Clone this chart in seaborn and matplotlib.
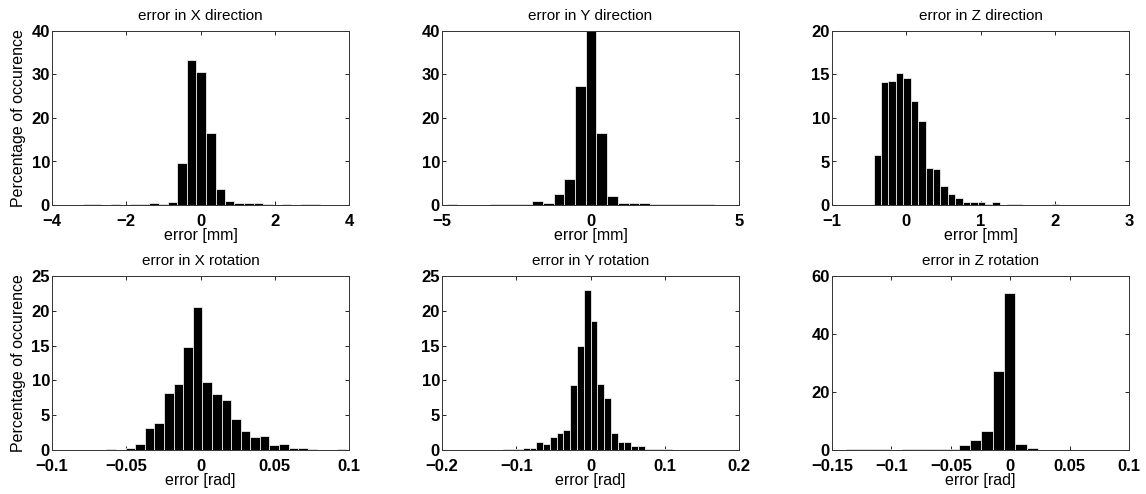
import numpy as np
import matplotlib
matplotlib.use("Agg")
import matplotlib.pyplot as plt
import seaborn as sns

# ---------------- data ----------------
titles = ["error in X direction", "error in Y direction", "error in Z direction",
          "error in X rotation", "error in Y rotation", "error in Z rotation"]
xlabels = ["error [mm]", "error [mm]", "error [mm]",
           "error [rad]", "error [rad]", "error [rad]"]
ylabel = "Percentage of occurence"

x_dir_centers = [-3.05, -2.80, -2.54, -2.28, -2.03, -1.77, -1.52, -1.26, -1.00, -0.75,
                 -0.49, -0.24, 0.02, 0.28, 0.53, 0.79, 1.04, 1.30, 1.56, 1.81,
                 2.07, 2.32, 2.58, 2.84, 3.09]
x_dir_pct = [0.12, 0.12, 0, 0.12, 0.05, 0.2, 0.2, 0.4, 0.2, 0.8,
             9.7, 33.3, 30.6, 16.5, 3.7, 1.0, 0.4, 0.4, 0.4, 0.25,
             0, 0.15, 0, 0.12, 0.12]

y_dir_centers = [-4.66, -4.30, -3.94, -3.58, -3.22, -2.86, -2.50, -2.14, -1.78, -1.42,
                 -1.06, -0.70, -0.34, 0.02, 0.38, 0.74, 1.10, 1.46, 1.82, 2.18,
                 2.54, 2.90, 3.26, 3.62, 3.98]
y_dir_pct = [0.15, 0, 0, 0.1, 0.2, 0.3, 0.15, 0.3, 1.0, 0.4,
             2.6, 6.0, 27.3, 40.0, 16.5, 2.0, 0.4, 0.5, 0.5, 0.2,
             0.15, 0.15, 0.15, 0.15, 0.2]

z_dir_centers = [-0.39, -0.29, -0.19, -0.09, 0.01, 0.11, 0.21, 0.31, 0.41, 0.51,
                 0.61, 0.71, 0.81, 0.91, 1.01, 1.11, 1.21, 1.31, 1.41, 1.51,
                 1.61, 1.71, 1.81, 1.91, 2.01]
z_dir_pct = [5.8, 14.1, 14.2, 15.2, 14.6, 12.0, 9.6, 4.2, 4.1, 2.2,
             1.3, 0.8, 0.4, 0.4, 0.4, 0.15, 0.3, 0, 0.1, 0.1,
             0, 0, 0, 0, 0.1]

x_rot_centers = [-0.0601, -0.0536, -0.0472, -0.0407, -0.0343, -0.0278, -0.0214, -0.0149,
                 -0.0085, -0.0020, 0.0045, 0.0109, 0.0174, 0.0238, 0.0303, 0.0368,
                 0.0432, 0.0497, 0.0561, 0.0626, 0.0690, 0.0755, 0.0819, 0.0884, 0.0948]
x_rot_pct = [0.2, 0, 0.35, 0.8, 3.2, 3.9, 8.2, 9.5, 14.8, 20.5,
             9.7, 8.0, 7.2, 4.4, 2.8, 1.8, 2.0, 0.7, 0.85, 0.3,
             0.35, 0.1, 0, 0, 0.1]

y_rot_centers = [-0.1138, -0.1047, -0.0956, -0.0865, -0.0774, -0.0683, -0.0592, -0.0501,
                 -0.0410, -0.0319, -0.0228, -0.0137, -0.0046, 0.0046, 0.0137, 0.0228,
                 0.0319, 0.0410, 0.0501, 0.0592, 0.0683, 0.0774, 0.0865, 0.0956, 0.1047]
y_rot_pct = [0.15, 0.1, 0.2, 0.25, 0.3, 1.1, 0.8, 1.8, 2.5, 2.9,
             9.3, 15.0, 23.0, 18.5, 9.5, 7.5, 2.5, 1.2, 1.1, 0.6,
             0.6, 0.15, 0.2, 0.2, 0.15]

z_rot_centers = [-0.1335, -0.1240, -0.1145, -0.1050, -0.0955, -0.0860, -0.0765, -0.0670,
                 -0.0575, -0.0480, -0.0385, -0.0290, -0.0195, -0.0100, -0.0005, 0.0090,
                 0.0185, 0.0280, 0.0375, 0.0470, 0.0565, 0.0660, 0.0755, 0.0850, 0.0945]
z_rot_pct = [0.3, 0.4, 0.2, 0.2, 0.15, 0.3, 0.3, 0.2, 0.3, 0.4,
             1.7, 3.5, 6.5, 27.3, 54.0, 2.0, 0.6, 0.15, 0.1, 0.15,
             0.1, 0.1, 0.15, 0, 0.1]

centers_all = [x_dir_centers, y_dir_centers, z_dir_centers,
               x_rot_centers, y_rot_centers, z_rot_centers]
pct_all = [x_dir_pct, y_dir_pct, z_dir_pct, x_rot_pct, y_rot_pct, z_rot_pct]

xticks_all = [[-4, -2, 0, 2, 4], [-5, 0, 5], [-1, 0, 1, 2, 3],
              [-0.1, -0.05, 0, 0.05, 0.1], [-0.2, -0.1, 0, 0.1, 0.2],
              [-0.15, -0.1, -0.05, 0, 0.05, 0.1]]
xticklabels_all = [["−4", "−2", "0", "2", "4"], ["−5", "0", "5"], ["−1", "0", "1", "2", "3"],
                   ["−0.1", "−0.05", "0", "0.05", "0.1"], ["−0.2", "−0.1", "0", "0.1", "0.2"],
                   ["−0.15", "−0.1", "−0.05", "0", "0.05", "0.1"]]
yticks_all = [[0, 10, 20, 30, 40], [0, 10, 20, 30, 40], [0, 5, 10, 15, 20],
              [0, 5, 10, 15, 20, 25], [0, 5, 10, 15, 20, 25], [0, 20, 40, 60]]

# ---------------- style ----------------
sns.set_style("ticks")
plt.rcParams["font.family"] = ["Liberation Sans", "DejaVu Sans"]
plt.rcParams["xtick.direction"] = "in"
plt.rcParams["ytick.direction"] = "in"
plt.rcParams["text.color"] = "black"
plt.rcParams["axes.labelcolor"] = "black"
plt.rcParams["axes.titlecolor"] = "black"

fig = plt.figure(figsize=(11.46, 4.94), dpi=100)

W = 1146.0
H = 494.0
lefts = [52, 442, 832]
width = 297
rows = [(31, 205), (276, 450)]

for i in range(6):
    r, c = divmod(i, 3)
    top, bot = rows[r]
    ax = fig.add_axes([lefts[c] / W, 1 - bot / H, width / W, (bot - top) / H])
    cen = np.array(centers_all[i], dtype=float)
    mids = (cen[1:] + cen[:-1]) / 2
    edges = np.concatenate([[cen[0] - (mids[0] - cen[0])], mids,
                            [cen[-1] + (cen[-1] - mids[-1])]])
    sns.histplot(x=list(cen), weights=list(pct_all[i]), bins=[float(e) for e in edges], ax=ax,
                 color="black", alpha=1.0, edgecolor="white", linewidth=0.5)
    xt = xticks_all[i]
    yt = yticks_all[i]
    ax.set_xlim(xt[0], xt[-1])
    ax.set_ylim(yt[0], yt[-1])
    ax.set_xticks(xt)
    ax.set_xticklabels(xticklabels_all[i])
    ax.set_yticks(yt)
    ax.set_yticklabels([str(v) for v in yt])
    ax.tick_params(axis="both", which="both", direction="in", top=True, right=True,
                   length=3, width=0.6, labelsize=12, colors="black")
    ax.tick_params(axis="x", pad=6.5)
    ax.tick_params(axis="y", pad=1.5)
    for lbl in ax.get_xticklabels() + ax.get_yticklabels():
        lbl.set_fontweight("bold")
    for s in ax.spines.values():
        s.set_linewidth(0.7)
        s.set_color("#333333")
    ax.set_title(titles[i], fontsize=11, pad=8, color="black")
    ax.set_xlabel(xlabels[i], fontsize=11.5, labelpad=-1, color="black")
    if c == 0:
        ax.set_ylabel(ylabel, fontsize=11.5, labelpad=4, color="black")
    else:
        ax.set_ylabel("")

fig.savefig("out.png", dpi=100, facecolor="white")
